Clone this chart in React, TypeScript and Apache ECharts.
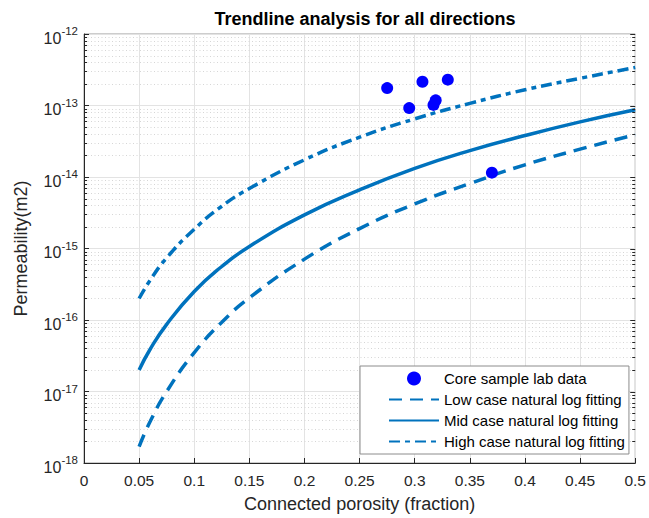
import React, { useEffect, useRef } from "react";
import * as echarts from "echarts";

const porosity = [0.05, 0.06, 0.075, 0.1, 0.125, 0.15, 0.2, 0.25, 0.3, 0.35, 0.4, 0.45, 0.5];
const lowCase = [1.7e-18, 3.8e-18, 1.0e-17, 3.5e-17, 9.3e-17, 2.04e-16, 7.1e-16, 1.9e-15, 4.2e-15, 8.1e-15, 1.48e-14, 2.45e-14, 3.9e-14];
const midCase = [2.0e-17, 3.9e-17, 8.7e-17, 2.5e-16, 5.6e-16, 1.07e-15, 2.95e-15, 6.6e-15, 1.32e-14, 2.34e-14, 3.8e-14, 5.9e-14, 8.7e-14];
const highCase = [2.0e-16, 3.6e-16, 7.4e-16, 1.86e-15, 3.9e-15, 6.9e-15, 1.74e-14, 3.6e-14, 6.5e-14, 1.07e-13, 1.66e-13, 2.4e-13, 3.4e-13];
const labPorosity = [0.275, 0.295, 0.307, 0.330, 0.319, 0.317, 0.370];
const labPerm = [1.75e-13, 9.2e-14, 2.15e-13, 2.3e-13, 1.18e-13, 1.02e-13, 1.15e-14];
const decades = [-18, -17, -16, -15, -14, -13];

const BLUE = "#0072BD";
const FONT = "Liberation Sans";

export default function App() {
  const ref = useRef<HTMLDivElement>(null);
  useEffect(() => {
    if (!ref.current) return;
    const chart = echarts.init(ref.current, null, { renderer: "svg" });

    const minorVals: number[] = [];
    decades.forEach((d) => {
      for (let m = 2; m <= 9; m++) minorVals.push(m * Math.pow(10, d));
    });
    const majorVals = decades.concat([-12]).map((d) => Math.pow(10, d));

    const pair = (ys: number[]) => porosity.map((x, i) => [x, ys[i]]);

    chart.setOption({
      animation: false,
      backgroundColor: "#ffffff",
      textStyle: { fontFamily: FONT },
      title: {
        text: "Trendline analysis for all directions",
        left: 360,
        top: 5,
        textAlign: "center",
        textStyle: { fontFamily: FONT, fontSize: 18, fontWeight: "bold", color: "#000" },
      },
      grid: {
        left: 84,
        right: 13,
        top: 34,
        bottom: 53,
        show: true,
        borderColor: "#9a9a9a",
        borderWidth: 1,
      },
      legend: {
        orient: "vertical",
        left: 360,
        top: 366,
        itemWidth: 50,
        itemHeight: 14,
        itemGap: 6,
        padding: [5, 4, 5, 28],
        backgroundColor: "#fff",
        borderColor: "#8c8c8c",
        borderWidth: 1,
        textStyle: { fontFamily: FONT, fontSize: 15, color: "#000" },
        data: [
          { name: "Core sample lab data", icon: "circle" },
          "Low case natural log fitting",
          "Mid case natural log fitting",
          "High case natural log fitting",
        ],
      },
      xAxis: {
        type: "value",
        min: 0,
        max: 0.5,
        interval: 0.05,
        name: "Connected porosity (fraction)",
        nameLocation: "middle",
        nameGap: 32,
        nameTextStyle: { fontFamily: FONT, fontSize: 18, color: "#262626" },
        axisLine: { show: true, onZero: false, lineStyle: { color: "#262626", width: 1 } },
        axisTick: { show: true, inside: true, length: 5, lineStyle: { color: "#262626" } },
        axisLabel: { fontFamily: FONT, fontSize: 15.5, color: "#262626", margin: 9 },
        splitLine: { show: true, lineStyle: { color: "#e3e3e3", width: 1 } },
      },
      yAxis: {
        type: "log",
        logBase: 10,
        min: 1e-18,
        max: 1e-12,
        name: "Permeability(m2)",
        nameLocation: "middle",
        nameGap: 54,
        nameTextStyle: { fontFamily: FONT, fontSize: 18, color: "#262626" },
        axisLine: { show: true, onZero: false, lineStyle: { color: "#262626", width: 1 } },
        axisTick: { show: true, inside: true, length: 5, lineStyle: { color: "#262626" } },
        axisLabel: {
          margin: 6,
          color: "#262626",
          formatter: (v: number) => {
            const e = Math.round(Math.log10(v));
            return "{b|10}{s|" + e + "}";
          },
          rich: {
            b: { fontFamily: FONT, fontSize: 16, color: "#262626", padding: [8, 0, 0, 0] },
            s: { fontFamily: FONT, fontSize: 11.5, color: "#262626", padding: [0, 0, 6, 0] },
          },
        },
        splitLine: { show: true, lineStyle: { color: "#e3e3e3", width: 1 } },
      },
      series: [
        {
          name: "minorGrid",
          type: "custom",
          silent: true,
          z: 0,
          data: minorVals.map((v) => [0, v]),
          renderItem: (params: any, api: any) => {
            const v = api.value(1);
            const a = api.coord([0, v]);
            const b = api.coord([0.5, v]);
            return {
              type: "line",
              shape: { x1: a[0], y1: Math.round(a[1]) + 0.5, x2: b[0], y2: Math.round(b[1]) + 0.5 },
              style: { stroke: "#d6d6d6", lineWidth: 1, lineDash: [1, 2.5], fill: null },
            };
          },
        },
        {
          name: "yTicks",
          type: "custom",
          silent: true,
          z: 6,
          data: minorVals.map((v) => [0, v, 3]).concat(majorVals.map((v) => [0, v, 5])),
          renderItem: (params: any, api: any) => {
            const v = api.value(1);
            const len = api.value(2);
            const a = api.coord([0, v]);
            const b = api.coord([0.5, v]);
            const y = Math.round(a[1]) + 0.5;
            const items: any[] = [
              { type: "line", shape: { x1: b[0], y1: y, x2: b[0] - len, y2: y }, style: { stroke: "#262626", lineWidth: 1 } },
            ];
            if (len < 5) {
              items.push({ type: "line", shape: { x1: a[0], y1: y, x2: a[0] + len, y2: y }, style: { stroke: "#262626", lineWidth: 1 } });
            }
            return { type: "group", children: items };
          },
        },
        {
          name: "Low case natural log fitting",
          type: "line",
          smooth: true,
          showSymbol: false,
          symbol: "none",
          data: pair(lowCase),
          color: BLUE,
          itemStyle: { color: BLUE, opacity: 0 },
          lineStyle: { color: BLUE, width: 3.5, type: [13, 8] },
          z: 4,
        },
        {
          name: "Mid case natural log fitting",
          type: "line",
          smooth: true,
          showSymbol: false,
          symbol: "none",
          data: pair(midCase),
          color: BLUE,
          itemStyle: { color: BLUE, opacity: 0 },
          lineStyle: { color: BLUE, width: 3.5, type: "solid" },
          z: 4,
        },
        {
          name: "High case natural log fitting",
          type: "line",
          smooth: true,
          showSymbol: false,
          symbol: "none",
          data: pair(highCase),
          color: BLUE,
          itemStyle: { color: BLUE, opacity: 0 },
          lineStyle: { color: BLUE, width: 3.5, type: [11, 5, 5, 5] },
          z: 4,
        },
        {
          name: "Core sample lab data",
          type: "scatter",
          symbol: "circle",
          symbolSize: 12,
          data: labPorosity.map((x, i) => [x, labPerm[i]]),
          itemStyle: { color: "#0000FF", opacity: 1 },
          z: 5,
        },
      ],
    });
    return () => chart.dispose();
  }, []);
  return (
    <div
      ref={ref}
      style={{ position: "fixed", left: 0, top: 0, width: 649, height: 518, background: "#fff" }}
    />
  );
}
